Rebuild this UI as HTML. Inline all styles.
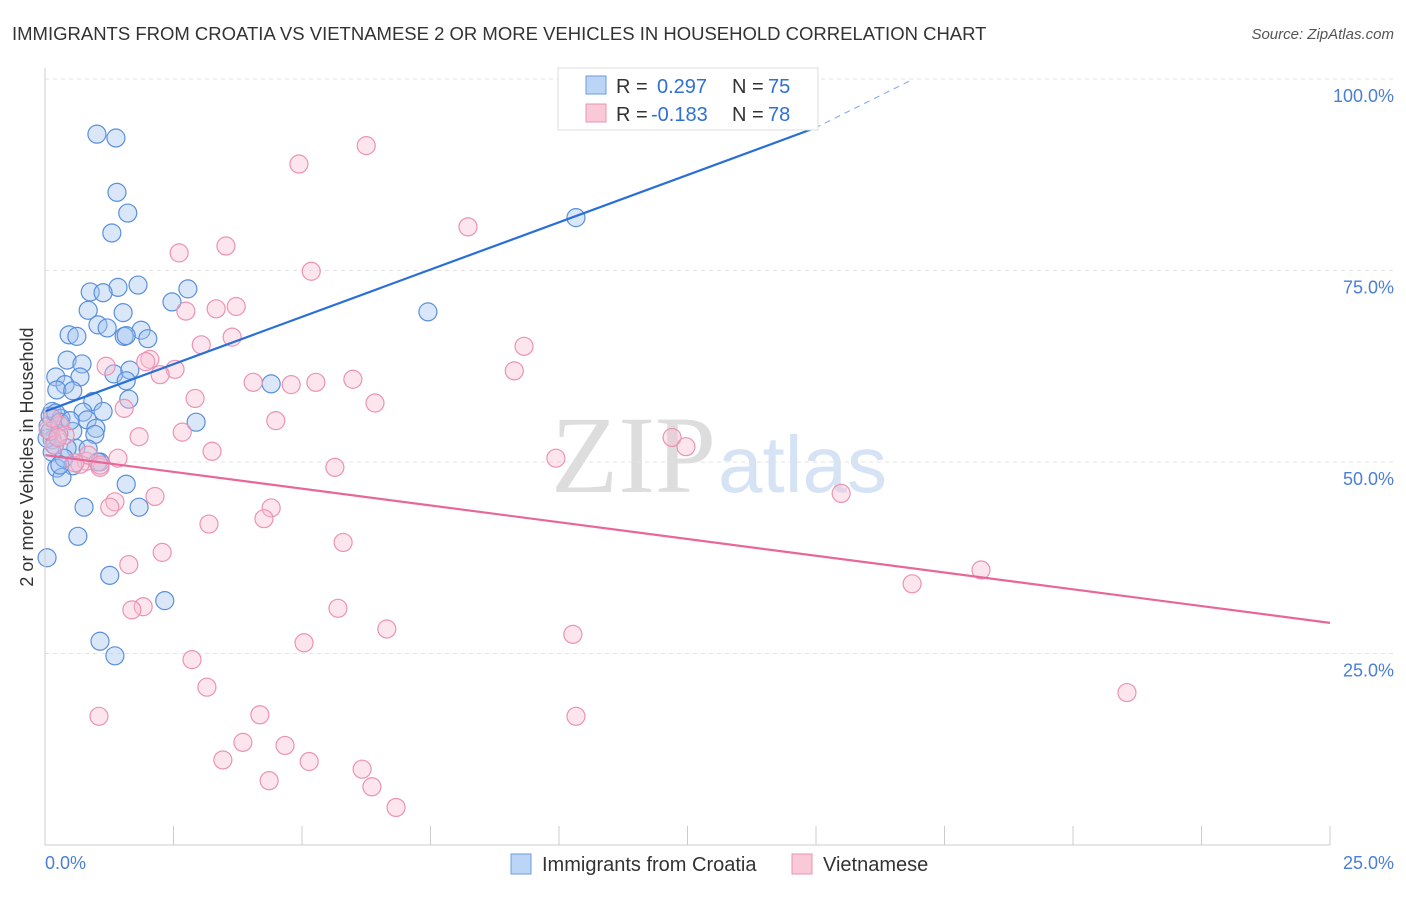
<!DOCTYPE html>
<html><head><meta charset="utf-8"><style>
body{margin:0;background:#fff;font-family:"Liberation Sans",sans-serif}
</style></head><body>
<svg width="1406" height="892" xmlns="http://www.w3.org/2000/svg" id="chart">
<text x="12" y="40" font-size="18.5" fill="#333">IMMIGRANTS FROM CROATIA VS VIETNAMESE 2 OR MORE VEHICLES IN HOUSEHOLD CORRELATION CHART</text>
<text x="1394" y="39" font-size="15" fill="#555" font-style="italic" text-anchor="end">Source: ZipAtlas.com</text>
<text x="716" y="492" font-size="110" fill="#ddd" text-anchor="end" font-family="Liberation Serif">ZIP</text>
<text x="718" y="492" font-size="80" fill="#d6e3f5">atlas</text>
<g id="grid"></g><g id="pts"></g><g id="lines"></g>
<line x1="45" y1="68" x2="45" y2="845" stroke="#ccc"/>
<line x1="45" y1="845" x2="1330" y2="845" stroke="#ccc"/>
<text transform="translate(33,457) rotate(-90)" font-size="18" fill="#333" text-anchor="middle">2 or more Vehicles in Household</text>
<text x="45" y="869" font-size="18" fill="#4a7fd4">0.0%</text>
<text x="1394" y="869" font-size="18" fill="#4a7fd4" text-anchor="end">25.0%</text>
<g>
<rect x="558" y="68" width="260" height="62" fill="#fff" stroke="#ddd"/>
<rect x="586" y="76" width="20" height="18" fill="#bcd4f5" stroke="#6a9de0"/>
<rect x="586" y="104" width="20" height="18" fill="#f9c9d8" stroke="#e895b0"/>
<text x="616" y="93" font-size="20" fill="#333">R = <tspan x="657" fill="#2f6fd6">0.297</tspan><tspan x="732">N = </tspan><tspan x="768" fill="#2f6fd6">75</tspan></text>
<text x="616" y="121" font-size="20" fill="#333">R = <tspan x="651" fill="#2f6fd6">-0.183</tspan><tspan x="732">N = </tspan><tspan x="768" fill="#2f6fd6">78</tspan></text>
</g>
<g>
<rect x="511" y="854" width="20" height="20" fill="#bcd4f5" stroke="#6a9de0"/>
<text x="542" y="871" font-size="20" fill="#333">Immigrants from Croatia</text>
<rect x="792" y="854" width="20" height="20" fill="#f9c9d8" stroke="#e895b0"/>
<text x="823" y="871" font-size="20" fill="#333">Vietnamese</text>
</g>
</svg>
<script>
const yTicks=[25,50,75,100];
const yTickLabels=["25.0%","50.0%","75.0%","100.0%"];
const xTicks=[0,2.5,5,7.5,10,12.5,15,17.5,20,22.5,25];
const croatiaX=[1.01,1.38,1.40,1.61,1.30,10.33,1.81,1.42,0.88,1.13,2.78,2.47,0.84,1.52,7.45,1.03,1.21,1.87,0.47,0.62,1.54,2.00,1.58,0.43,0.72,1.34,1.65,1.58,0.68,4.40,0.21,0.39,0.23,0.54,1.63,0.93,0.14,0.74,1.13,2.94,0.82,0.31,0.10,0.06,0.99,0.54,0.27,0.97,0.14,0.60,0.43,0.14,1.07,0.54,0.23,0.33,1.58,0.76,1.83,0.64,0.04,1.26,2.33,1.07,1.36,0.21,0.29,0.04,0.37,0.84,0.18,0.49,0.10,0.29,1.03];
const croatiaY=[92.8,92.3,85.2,82.5,79.9,81.9,73.1,72.8,72.2,72.1,72.6,70.9,69.8,69.5,69.6,67.9,67.5,67.2,66.6,66.4,66.4,66.1,66.5,63.3,62.8,61.5,62.0,60.6,61.1,60.2,61.1,60.1,59.4,59.3,58.2,57.9,56.6,56.5,56.6,55.2,55.5,55.7,56.0,54.7,54.4,54.0,53.7,53.6,52.9,51.8,51.8,51.3,50.0,49.5,49.2,48.0,47.1,44.1,44.1,40.3,37.5,35.2,31.9,26.6,24.7,56.4,55.2,53.1,50.5,51.7,52.2,55.4,54.0,49.6,50.0];
const vietX=[6.25,4.94,8.23,3.52,2.61,5.18,3.72,3.33,2.74,3.64,3.04,9.32,2.04,1.96,1.19,2.53,2.24,9.13,4.05,4.79,5.27,5.99,2.92,6.42,1.54,4.49,2.67,1.83,12.20,12.47,3.25,9.94,5.64,1.42,0.80,1.07,0.68,15.49,2.14,1.36,1.26,4.40,4.26,3.19,5.80,2.28,1.63,18.21,16.87,1.91,1.69,5.70,6.65,10.27,5.04,2.86,3.15,21.05,1.05,10.33,4.18,3.85,4.67,3.46,5.14,6.17,4.36,6.36,6.83,0.06,0.19,0.29,0.39,0.14,0.25,0.84,1.07,0.58];
const vietY=[91.3,88.9,80.7,78.2,77.3,74.9,70.3,70.0,69.7,66.3,65.3,65.1,63.4,63.1,62.5,62.1,61.4,61.9,60.4,60.1,60.4,60.8,58.3,57.7,57.0,55.4,53.9,53.3,53.2,52.0,51.4,50.5,49.3,50.5,50.1,49.3,49.7,45.9,45.5,44.8,44.1,44.0,42.6,41.9,39.5,38.2,36.6,35.9,34.1,31.1,30.7,30.9,28.2,27.5,26.4,24.2,20.6,19.9,16.8,16.8,17.0,13.4,13.0,11.1,10.9,9.9,8.4,7.6,4.9,54.2,52.2,54.8,53.5,55.7,53.2,50.9,49.6,49.9];
const blueLine=[56.6,93.6,100];const blueLineX=[0,14.98,16.9];
const pinkLine=[50.9,29.0];const pinkLineX=[0,25];
const NS="http://www.w3.org/2000/svg";
const sx=v=>45+v*51.4, sy=v=>845-v*7.66;
function mk(t,a,p){const e=document.createElementNS(NS,t);for(const k in a)e.setAttribute(k,a[k]);p.appendChild(e);return e;}
const g=document.getElementById('grid');
yTicks.forEach((t,i)=>{
 const l=mk('line',{x1:45,x2:1394,y1:sy(t),y2:sy(t),stroke:'#e3e3e3','stroke-dasharray':'4,4'},g);
 
 
 const tx=mk('text',{x:1394,y:sy(t)+23,'font-size':18,fill:'#4a7fd4','text-anchor':'end'},g);
 tx.textContent=yTickLabels[i];
 
 
});
xTicks.forEach(t=>{
 const l=mk('line',{x1:sx(t),x2:sx(t),y1:826,y2:845,stroke:'#ccc'},g);
 
 
});
const p=document.getElementById('pts');
croatiaX.forEach((x,i)=>{
 const c=mk('circle',{cx:sx(x),cy:sy(croatiaY[i]),r:9,fill:'rgba(160,195,240,0.4)',stroke:'#5a8fdc','stroke-width':1.2},p);
 
 
});
vietX.forEach((x,i)=>{
 const c=mk('circle',{cx:sx(x),cy:sy(vietY[i]),r:9,fill:'rgba(248,190,210,0.4)',stroke:'#eb93b2','stroke-width':1.2},p);
 
 
});
const L=document.getElementById('lines');
const b1=mk('line',{x1:sx(blueLineX[0]),y1:sy(blueLine[0]),x2:sx(blueLineX[1]),y2:sy(blueLine[1]),stroke:'#2a6fd8','stroke-width':2.2},L);


const b2=mk('line',{x1:sx(blueLineX[1]),y1:sy(blueLine[1]),x2:sx(blueLineX[2]),y2:sy(blueLine[2]),stroke:'#8fb2e8','stroke-width':1.2,'stroke-dasharray':'6,5'},L);


const pl=mk('line',{x1:sx(pinkLineX[0]),y1:sy(pinkLine[0]),x2:sx(pinkLineX[1]),y2:sy(pinkLine[1]),stroke:'#e8679a','stroke-width':2.2},L);


</script>
</body></html>
